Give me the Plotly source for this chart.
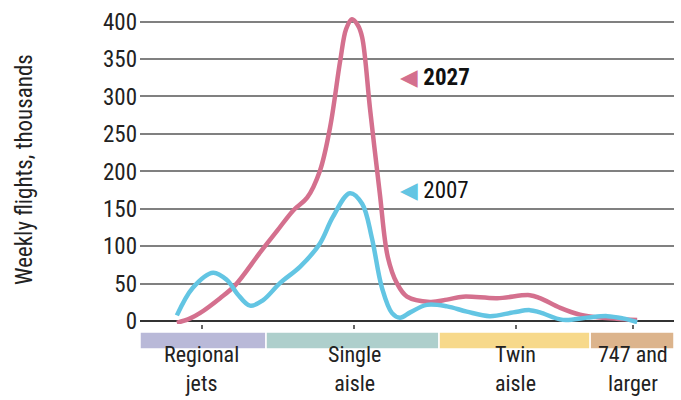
import plotly.graph_objects as go

# ---- data ----
# position along aircraft-size axis (0-100), weekly flights in thousands
x_2027 = [6.9, 9.4, 11.2, 15.0, 17.8, 22.5, 25.7, 28.7, 31.3, 33.7, 35.6, 37.5, 38.6, 39.7,
          40.8, 41.6, 43.1, 44.9, 46.4, 48.1, 50.0, 54.3, 57.5, 60.5, 66.9, 73.0, 74.9,
          78.7, 82.4, 86.1, 93.1]
y_2027 = [-2, 4, 11, 31, 48, 92, 121, 148, 165, 201, 259, 348, 390, 403,
          395, 379, 282, 171, 86, 51, 33, 26, 29, 33, 31, 35, 31,
          18, 9, 5, 2]

x_2007 = [6.9, 9.9, 13.7, 16.3, 18.2, 20.6, 23.0, 26.2, 30.0, 33.7, 36.1, 39.3, 41.6, 43.4,
          45.3, 47.2, 48.7, 50.6, 53.7, 57.5, 61.2, 65.5, 69.9, 73.0, 74.9, 79.2, 83.7,
          87.5, 90.4, 93.1]
y_2007 = [8, 45, 65, 55, 37, 21, 28, 51, 73, 104, 139, 171, 157, 112,
          45, 11, 5, 12, 22, 20, 13, 7, 12, 15, 12, 2, 5,
          7, 4, -1]

categories = ["Regional<br>jets", "Single<br>aisle", "Twin<br>aisle", "747 and<br>larger"]
category_start = [0.0, 23.6, 56.0, 84.3]
category_end = [23.6, 56.0, 84.3, 100.0]
category_center = [11.6, 40.1, 70.4, 92.3]
category_colors = ["#b9b9d8", "#aecfcc", "#f7d98b", "#dcb48c"]

y_ticks = [0, 50, 100, 150, 200, 250, 300, 350, 400]

PINK = "#d4708e"
BLUE = "#63c5e3"
FONT = "Liberation Sans Narrow, Arial Narrow, Roboto Condensed, Liberation Sans, sans-serif"

fig = go.Figure()
fig.add_trace(go.Scatter(x=x_2027, y=y_2027, mode="lines", name="2027",
                         line=dict(color=PINK, width=4.5, shape="spline", smoothing=1.0),
                         hoverinfo="skip"))
fig.add_trace(go.Scatter(x=x_2007, y=y_2007, mode="lines", name="2007",
                         line=dict(color=BLUE, width=4.5, shape="spline", smoothing=1.0),
                         hoverinfo="skip"))

shapes = []
for s, e, c in zip(category_start, category_end, category_colors):
    shapes.append(dict(type="rect", xref="x", yref="paper", x0=s, x1=e,
                       y0=-0.0806, y1=-0.0258, fillcolor=c,
                       line=dict(color="white", width=1.5), layer="above"))

annotations = []
for cx, lab in zip(category_center, categories):
    annotations.append(dict(x=cx, y=(324 - 369) / 310, xref="x", yref="paper", text=lab,
                            showarrow=False, xanchor="center", yanchor="middle",
                            font=dict(family=FONT, size=22, color="#222")))

annotations.append(dict(x=48.3, y=325, xref="x", yref="y",
                        text=f'<span style="color:{PINK}">◀</span> <b>2027</b>',
                        showarrow=False, xanchor="left", yanchor="middle",
                        font=dict(family=FONT, size=23, color="#111")))
annotations.append(dict(x=48.3, y=175, xref="x", yref="y",
                        text=f'<span style="color:{BLUE}">◀</span> 2007',
                        showarrow=False, xanchor="left", yanchor="middle",
                        font=dict(family=FONT, size=23, color="#111")))
annotations.append(dict(x=(25 - 140) / 534, y=(324 - 170) / 310, xref="paper", yref="paper",
                        text="Weekly flights, thousands", textangle=-90,
                        showarrow=False, xanchor="center", yanchor="middle",
                        font=dict(family=FONT, size=23, color="#222")))

fig.update_layout(
    width=681, height=400,
    margin=dict(l=140, r=7, t=14, b=76),
    paper_bgcolor="white", plot_bgcolor="white",
    showlegend=False,
    shapes=shapes,
    annotations=annotations,
    xaxis=dict(range=[0, 100], showgrid=False, zeroline=False, showline=False,
               tickvals=category_center, ticktext=["", "", "", ""],
               ticks="outside", ticklen=4, tickwidth=1.5, tickcolor="#666",
               fixedrange=True),
    yaxis=dict(range=[-3.5, 410], tickvals=y_ticks, ticks="",
               showgrid=True, gridcolor="#808080", gridwidth=1.5,
               zeroline=True, zerolinecolor="#333", zerolinewidth=1.5,
               showline=False, ticklabelstandoff=2,
               tickfont=dict(family=FONT, size=23, color="#222"),
               fixedrange=True),
)

fig.write_html("out.html", post_script="document.body.style.margin='0';",
               config={"displayModeBar": False})
